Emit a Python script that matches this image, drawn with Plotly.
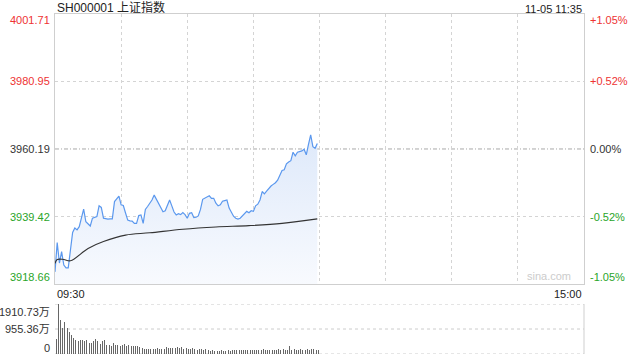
import plotly.graph_objects as go

# ---------------- data ----------------
title_text = "SH000001 上证指数"
stamp_text = "11-05 11:35"
prev_close = 3960.19
price_ticks = [3918.66, 3939.42, 3960.19, 3980.95, 4001.71]
price_tick_colors = ["#2aa52a", "#2aa52a", "#333333", "#ee3333", "#ee3333"]
pct_labels = ["-1.05%", "-0.52%", "0.00%", "+0.52%", "+1.05%"]
vol_ticks = [0, 955.36, 1910.73]
vol_labels = ["0", "955.36万", "1910.73万"]
time_labels = ["09:30", "15:00"]
session_minutes = 240

price = [
    3922.4, 3931.4, 3925.1, 3928.6, 3924.5, 3923.6, 3923.6, 3929.1, 3934.5, 3935.9,
    3935.3, 3936.3, 3939.5, 3941.7, 3937.8, 3937.2, 3936.5, 3938.9, 3939.2, 3939.4,
    3942.7, 3942.2, 3938.9, 3938.7, 3938.6, 3938.7, 3938.7, 3944.0, 3944.9, 3945.7,
    3943.0, 3942.8, 3940.5, 3938.3, 3938.1, 3938.0, 3937.3, 3937.3, 3939.7, 3939.9,
    3937.3, 3941.6, 3942.5, 3943.4, 3944.5, 3946.0, 3944.6, 3943.4, 3942.0, 3940.9,
    3941.2, 3942.8, 3944.5, 3942.7, 3940.8, 3939.9, 3940.3, 3940.0, 3940.6, 3940.0,
    3938.9, 3940.4, 3940.6, 3939.1, 3939.2, 3939.6, 3941.6, 3944.7, 3945.1, 3945.4,
    3945.8, 3945.0, 3945.0, 3943.5, 3942.7, 3943.0, 3944.1, 3944.3, 3944.5, 3942.0,
    3940.9, 3939.5, 3938.9, 3938.6, 3938.9, 3939.6, 3940.4, 3941.0, 3940.6, 3941.2,
    3941.0, 3942.7, 3943.2, 3944.5, 3947.1, 3946.4, 3947.2, 3948.1, 3948.8, 3949.3,
    3949.8, 3950.6, 3952.2, 3953.6, 3953.8, 3955.6, 3956.2, 3956.6, 3959.2, 3958.1,
    3959.2, 3959.3, 3959.6, 3960.1, 3958.4, 3961.6, 3964.5, 3960.9, 3960.4, 3961.9,
]

avg_minutes = [0, 1, 4, 7, 15, 22, 32, 43, 58, 73, 88, 103, 119]
avg_price = [3925.0, 3926.2, 3926.2, 3925.8, 3929.6, 3931.7, 3933.7, 3934.4,
             3935.5, 3936.2, 3936.6, 3937.3, 3938.7]

volume = [
    573, 1910, 1300, 994, 1223, 994, 841, 739, 612, 548,
    484, 522, 522, 484, 522, 420, 433, 484, 573, 484,
    395, 484, 548, 357, 357, 318, 420, 357, 357, 318,
    357, 395, 318, 357, 318, 318, 318, 293, 268, 230,
    191, 191, 191, 191, 191, 191, 230, 191, 191, 191,
    268, 230, 230, 230, 230, 268, 230, 268, 191, 230,
    191, 191, 230, 191, 166, 191, 191, 166, 191, 166,
    127, 166, 127, 127, 127, 166, 127, 127, 166, 127,
    166, 166, 140, 166, 166, 140, 166, 166, 166, 140,
    166, 140, 166, 166, 191, 166, 166, 140, 166, 166,
    166, 191, 166, 191, 166, 166, 318, 140, 191, 166,
    166, 191, 166, 140, 191, 166, 191, 191, 166, 140,
]

minutes = list(range(len(price)))
vol_x = [m + 0.5 for m in range(len(volume))]

FONT = "Arial, 'Liberation Sans', 'Noto Sans CJK SC', sans-serif"

fig = go.Figure()

fig.add_trace(go.Scatter(
    x=minutes, y=price, mode="lines",
    line=dict(color="#5b98ee", width=1.2),
    fill="tozeroy",
    fillgradient=dict(type="vertical", start=price_ticks[0], stop=max(price),
                      colorscale=[[0, "rgba(248,250,254,1)"], [1, "rgba(222,233,250,1)"]]),
    xaxis="x", yaxis="y", hoverinfo="skip",
))
fig.add_trace(go.Scatter(
    x=avg_minutes, y=avg_price, mode="lines", line=dict(color="#333333", width=1.1, shape="spline"),
    xaxis="x", yaxis="y", hoverinfo="skip",
))
fig.add_trace(go.Bar(
    x=vol_x, y=volume, width=0.45, marker=dict(color="#666666", line=dict(width=0)),
    xaxis="x2", yaxis="y2", hoverinfo="skip",
))

price_dom = [0.2059, 1.0]
vol_dom = [0.0, 0.147]

fig.update_layout(
    width=640, height=360,
    margin=dict(l=55, r=56, t=14, b=6),
    plot_bgcolor="white", paper_bgcolor="white",
    showlegend=False, bargap=0,
    font=dict(family=FONT, size=11, color="#333333"),
    xaxis=dict(domain=[0, 1], range=[0, session_minutes], anchor="y",
               tickvals=[30, 60, 90, 120, 150, 180, 210],
               showgrid=True, gridcolor="#d4d4d4", griddash="dot", gridwidth=1,
               showticklabels=False, ticks="", zeroline=False,
               showline=True, mirror=True, linecolor="#cfcfcf", linewidth=1),
    yaxis=dict(domain=price_dom, range=[price_ticks[0], price_ticks[-1]], anchor="x",
               tickvals=[price_ticks[1], price_ticks[3]],
               showgrid=True, gridcolor="#d4d4d4", griddash="dot", gridwidth=1,
               showticklabels=False, ticks="", zeroline=False,
               showline=True, mirror=True, linecolor="#cfcfcf", linewidth=1),
    xaxis2=dict(domain=[0, 1], range=[0, session_minutes], anchor="y2",
                showgrid=False, showticklabels=False, ticks="", zeroline=False, showline=False),
    yaxis2=dict(domain=vol_dom, range=[0, vol_ticks[-1]], anchor="x2",
                showgrid=False, showticklabels=False, ticks="", zeroline=False, showline=False),
)

shapes = []
shapes.append(dict(type="line", xref="x domain", yref="y", x0=0, x1=1, y0=prev_close, y1=prev_close,
                   line=dict(color="#a8a8a8", width=1, dash="4px,2px,1px,2px"), layer="below"))
for v in vol_ticks:
    shapes.append(dict(type="line", xref="x2 domain", yref="y2", x0=0, x1=1, y0=v, y1=v,
                       line=dict(color="#cccccc", width=1, dash="dot"), layer="below"))
shapes.append(dict(type="line", xref="x2 domain", yref="y2", x0=1, x1=1, y0=0, y1=vol_ticks[-1],
                   line=dict(color="#cfcfcf", width=1)))
fig.update_layout(shapes=shapes)

ann = []
n = len(price_ticks)
for i, (v, c, p) in enumerate(zip(price_ticks, price_tick_colors, pct_labels)):
    shift = -6 if i == n - 1 else (7 if i == 0 else 0)
    ann.append(dict(xref="paper", yref="y", x=0, y=v, text=f"{v:.2f}", showarrow=False,
                    xanchor="right", yanchor="middle", xshift=-3, yshift=shift,
                    font=dict(color=c, size=11, family=FONT)))
    ann.append(dict(xref="paper", yref="y", x=1, y=v, text=p, showarrow=False,
                    xanchor="left", yanchor="middle", xshift=4, yshift=shift,
                    font=dict(color=c, size=11, family=FONT)))
for i, (v, t) in enumerate(zip(vol_ticks, vol_labels)):
    shift = 6 if i == 0 else (-8 if i == len(vol_ticks) - 1 else 0)
    ann.append(dict(xref="paper", yref="y2", x=0, y=v, text=t, showarrow=False,
                    xanchor="right", yanchor="middle", xshift=-3, yshift=shift,
                    font=dict(color="#333333", size=11, family=FONT)))
ann.append(dict(xref="paper", yref="paper", x=0, y=1, text=title_text, showarrow=False,
                xanchor="left", yanchor="bottom", yshift=-3,
                font=dict(color="#222222", size=12, family=FONT)))
ann.append(dict(xref="paper", yref="paper", x=1, y=1, text=stamp_text, showarrow=False,
                xanchor="right", yanchor="bottom", yshift=-3,
                font=dict(color="#222222", size=11, family=FONT)))
ann.append(dict(xref="paper", yref="paper", x=0, y=price_dom[0], text=time_labels[0], showarrow=False,
                xanchor="left", yanchor="top", yshift=-2,
                font=dict(color="#222222", size=11, family=FONT)))
ann.append(dict(xref="paper", yref="paper", x=1, y=price_dom[0], text=time_labels[1], showarrow=False,
                xanchor="right", yanchor="top", yshift=-2,
                font=dict(color="#222222", size=11, family=FONT)))
ann.append(dict(xref="paper", yref="paper", x=0.979, y=price_dom[0], text="sina.com", showarrow=False,
                xanchor="right", yanchor="bottom", yshift=0,
                font=dict(color="#cccccc", size=11, family=FONT)))
fig.update_layout(annotations=ann)

fig.write_html("out.html", config={"displayModeBar": False, "staticPlot": True},
               post_script="document.body.style.margin='0';document.body.style.overflow='hidden';")
